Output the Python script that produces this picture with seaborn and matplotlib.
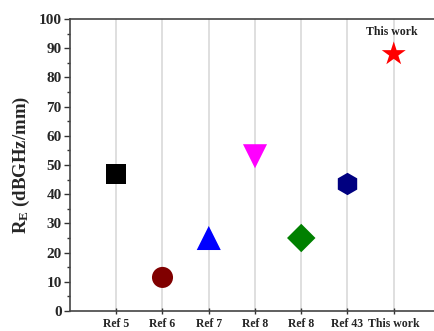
import matplotlib
matplotlib.use("Agg")
import matplotlib.pyplot as plt
import seaborn as sns
import pandas as pd
from matplotlib.ticker import MultipleLocator

categories = ["Ref 5", "Ref 6", "Ref 7", "Ref 8", "Ref 8", "Ref 43", "This work"]
positions = [1, 2, 3, 4, 5, 6, 7]
values = [47, 11.5, 25, 53, 25, 43.5, 88]
point_ids = ["p1", "p2", "p3", "p4", "p5", "p6", "p7"]
colors = ["#000000", "#800000", "#0000FF", "#FF00FF", "#008000", "#000080", "#FF0000"]
marker_shapes = ["s", "o", "^", "v", "D", "h", "*"]
marker_sizes = [210, 230, 300, 300, 210, 260, 330]

sns.set_theme(style="white")
plt.rcParams['font.family'] = ['Liberation Serif', 'DejaVu Serif']
plt.rcParams['font.weight'] = 'bold'
plt.rcParams['mathtext.fontset'] = 'custom'
plt.rcParams['mathtext.rm'] = 'Liberation Serif:bold'
plt.rcParams['mathtext.bf'] = 'Liberation Serif:bold'
plt.rcParams['mathtext.it'] = 'Liberation Serif:bold'

df = pd.DataFrame({"pos": positions, "val": values, "id": point_ids, "size": marker_sizes})

fig = plt.figure(figsize=(4.35, 3.31), dpi=100)
ax = fig.add_axes([70/435, 1-311/331, 370/435, 292/331])

for x in positions:
    ax.axvline(x, color="#d9d9d9", lw=1.2, zorder=0)

sns.scatterplot(data=df, x="pos", y="val", hue="id", style="id", size="id",
                palette=dict(zip(point_ids, colors)),
                markers=dict(zip(point_ids, marker_shapes)),
                sizes=dict(zip(point_ids, marker_sizes)),
                edgecolor="none", legend=False, ax=ax, zorder=3)

ax.set_xlim(0, 8)
ax.set_ylim(0, 100)
ax.set_xticks(positions)
ax.set_xticklabels(categories, fontsize=8.5, fontweight="bold")
ax.set_yticks(range(0, 101, 10))
ax.yaxis.set_minor_locator(MultipleLocator(5))
ax.tick_params(axis="y", which="major", labelsize=11, length=4, width=1, direction="out", left=True, color="#333333", pad=2)
ax.tick_params(axis="y", which="minor", length=2, width=1, direction="out", left=True, color="#333333")
ax.tick_params(axis="x", which="major", length=5, width=1, direction="inout", bottom=True, color="#333333", pad=2.5)
for lab in ax.get_yticklabels():
    lab.set_fontweight("bold")
ax.set_xlabel("")
ax.set_ylabel(r"R$_{\mathrm{E}}$ (dBGHz/mm)", fontsize=13.5, fontweight="bold", labelpad=5)

for side in ["left", "top", "bottom", "right"]:
    ax.spines[side].set_color("#444444")
    ax.spines[side].set_linewidth(1.2)

ax.text(6.95, 95.5, "This work", ha="center", va="center", fontsize=8.5, fontweight="bold", color="#222222")

fig.savefig("out.png", dpi=100)
